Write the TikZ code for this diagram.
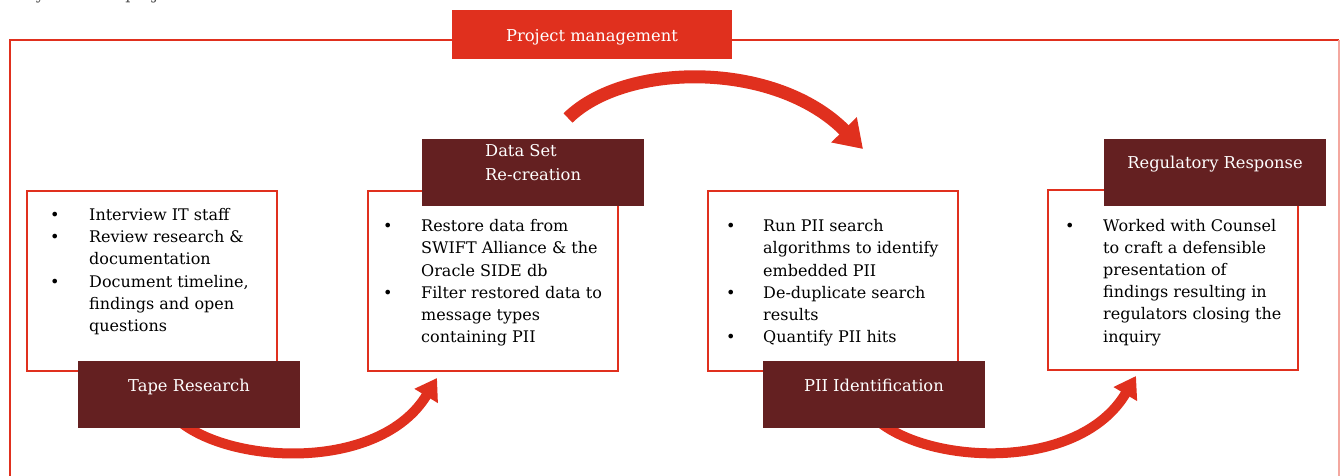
\documentclass[tikz,border=0pt]{standalone}
\usepackage{fontspec}
\setmainfont{DejaVu Serif}
\usetikzlibrary{arrows.meta}
\definecolor{pwcred}{HTML}{E0301E}
\definecolor{maroon}{HTML}{642021}
\definecolor{framepink}{HTML}{F4A8A0}
\tikzset{
  frameline/.style={draw=pwcred, line width=2pt},
  contentbox/.style={draw=pwcred, line width=2pt, fill=white, rectangle, anchor=north west, minimum width=250pt, minimum height=180pt, inner sep=0pt},
  labelbox/.style={fill=maroon, rectangle, anchor=north west, minimum width=222pt, minimum height=67pt, inner sep=0pt},
  pmbox/.style={fill=pwcred, rectangle, anchor=north west, minimum width=280pt, minimum height=49pt, inner sep=0pt},
  whitetext/.style={text=white, font=\fontsize{16.3}{22}\selectfont, inner sep=0pt},
  bodytext/.style={text=black, font=\fontsize{16}{22.2}\selectfont, inner sep=0pt, anchor=base west},
  bigarrow/.style={draw=pwcred, line width=13pt, -{Triangle[width=34pt,length=27pt]}},
  smallarrow/.style={draw=pwcred, line width=10pt, -{Triangle[width=26pt,length=21pt]}},
}
\newcommand{\bl}{\textbullet}
\begin{document}
\begin{tikzpicture}[x=1pt,y=-1pt]
\useasboundingbox (0,0) rectangle (1341,476);
\begin{scope}
\clip (0,0) rectangle (1341,476);
% cut-off text at top
\node[bodytext, text=black!70] (toptext) at (1,0) {lifecycle of the project.};
% outer frame
\coordinate (fbl) at (9.5,480);
\coordinate (ftl) at (9.5,40);
\coordinate (ftr) at (1339,40);
\coordinate (fbr) at (1339,480);
\draw[frameline] (fbl) -- (ftl) -- (ftr);
\draw[draw=framepink, line width=1.5pt] (ftr) -- (fbr);

% arrows
\coordinate (a0s) at (568,118);
\coordinate (a0e) at (863,149);
\draw[bigarrow] (a0s) .. controls (625,62) and (775,60) .. (a0e);
\coordinate (a1s) at (178,420);
\coordinate (a1e) at (437,378);
\draw[smallarrow] (a1s) .. controls (230,465) and (380,472) .. (a1e);
\coordinate (a2s) at (877,420);
\coordinate (a2e) at (1136,376);
\draw[smallarrow] (a2s) .. controls (929,465) and (1079,472) .. (a2e);

% project management
\node[pmbox] (pm) at (452,10) {};
\node[whitetext, anchor=base] (pmt) at (592,41.7) {Project management};

% content boxes
\node[contentbox] (b1) at (26,190) {};
\node[contentbox] (b2) at (367,190) {};
\node[contentbox] (b3) at (707,190) {};
\node[contentbox] (b4) at (1047,189) {};

% labels
\node[labelbox] (l1) at (78,361) {};
\node[labelbox] (l2) at (422,139) {};
\node[labelbox] (l3) at (763,361) {};
\node[labelbox] (l4) at (1104,139) {};
\node[whitetext, anchor=base] (l1t) at (189,391) {Tape Research};
\node[whitetext, anchor=base west] (l2ta) at (485,157) {Data Set};
\node[whitetext, anchor=base west] (l2tb) at (485,180) {Re-creation};
\node[whitetext, anchor=base] (l3t) at (874,391) {PII Identification};
\node[whitetext, anchor=base] (l4t) at (1215,168) {Regulatory Response};

% body texts
\node[bodytext] (t1) at (50,220.5) {\begin{tabular}[t]{@{}p{39pt}@{}l@{}}
\bl & Interview IT staff\\
\bl & Review research \&\\
 & documentation\\
\bl & Document timeline,\\
 & findings and open\\
 & questions
\end{tabular}};
\node[bodytext] (t2) at (383,231.7) {\begin{tabular}[t]{@{}p{38pt}@{}l@{}}
\bl & Restore data from\\
 & SWIFT Alliance \& the\\
 & Oracle SIDE db\\
\bl & Filter restored data to\\
 & message types\\
 & containing PII
\end{tabular}};
\node[bodytext] (t3) at (726,231.7) {\begin{tabular}[t]{@{}p{37pt}@{}l@{}}
\bl & Run PII search\\
 & algorithms to identify\\
 & embedded PII\\
\bl & De-duplicate search\\
 & results\\
\bl & Quantify PII hits
\end{tabular}};
\node[bodytext] (t4) at (1065,231) {\begin{tabular}[t]{@{}p{38pt}@{}l@{}}
\bl & Worked with Counsel\\
 & to craft a defensible\\
 & presentation of\\
 & findings resulting in\\
 & regulators closing the\\
 & inquiry
\end{tabular}};
\end{scope}
\end{tikzpicture}
\end{document}
